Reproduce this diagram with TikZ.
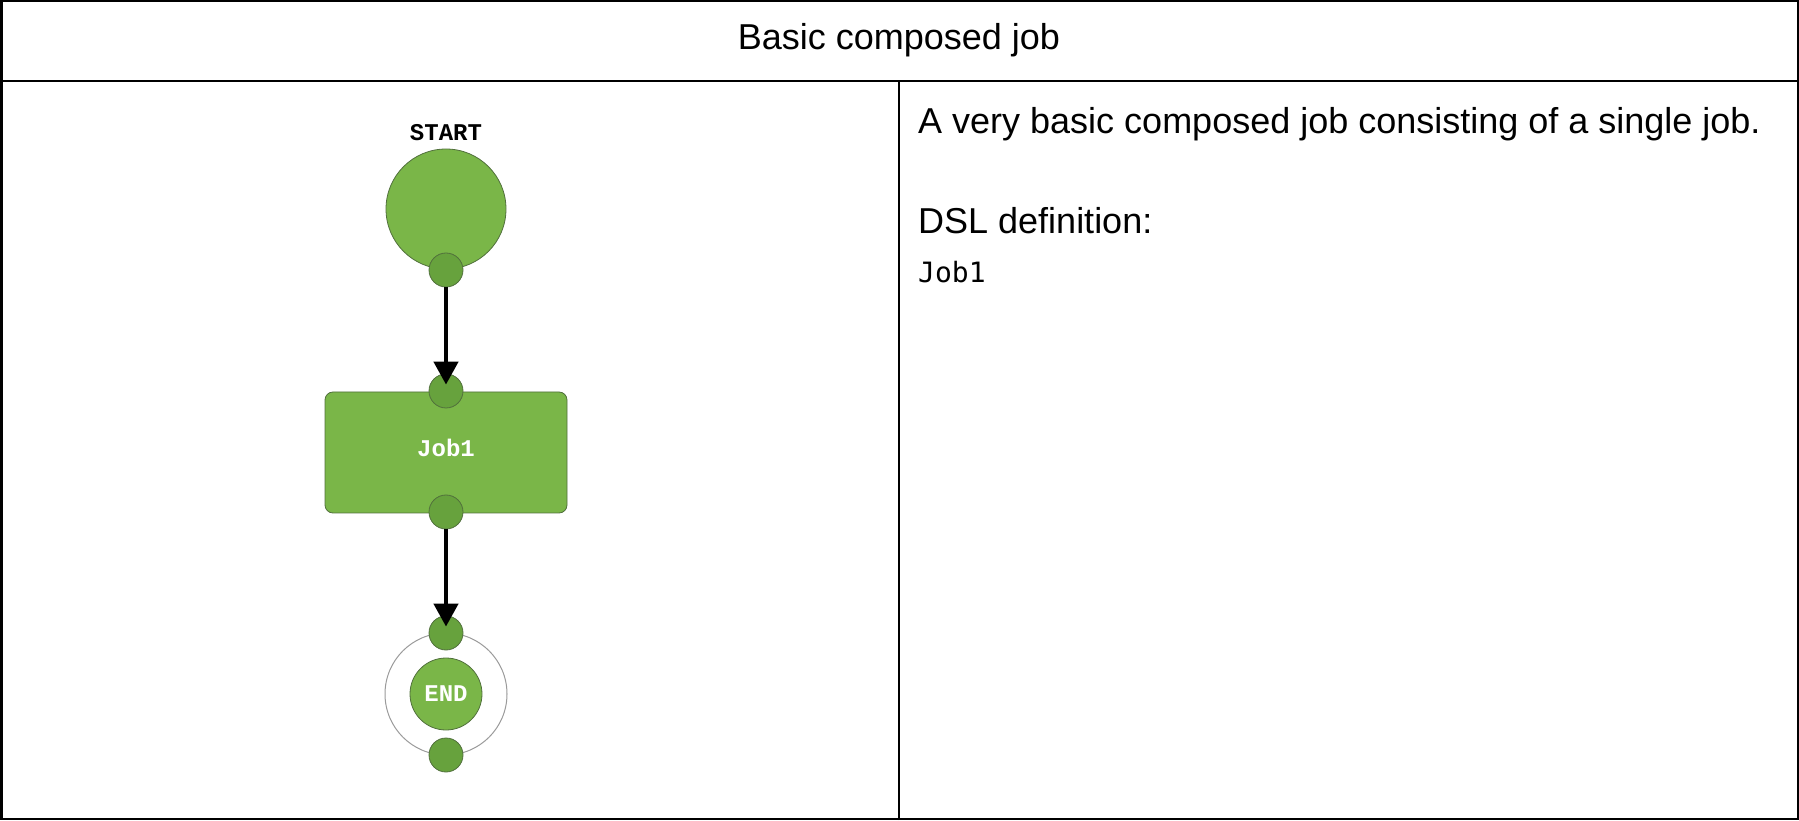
\documentclass[tikz,border=0pt]{standalone}
\usepackage{fontspec}
\setmainfont{Liberation Sans}
\setmonofont{DejaVu Sans Mono}
\newfontfamily\badgefont{Liberation Mono}
\usetikzlibrary{arrows.meta}
\definecolor{jobgreen}{HTML}{7AB648}
\definecolor{portgreen}{HTML}{67A23D}
\definecolor{edgegreen}{HTML}{51703C}
\definecolor{ringgray}{HTML}{9A9A9A}

\begin{document}
\begin{tikzpicture}[x=1pt,y=1pt,
  rule/.style={line width=2.5pt},
  port/.style={circle,draw=edgegreen,fill=portgreen,line width=0.8pt,minimum size=34pt,inner sep=0pt},
  flow/.style={-{Triangle[width=24pt,length=23pt]},line width=4.5pt,shorten >=-11pt},
  badge/.style={font=\badgefont\bfseries\fontsize{24}{28}\selectfont},
  bodytext/.style={font=\fontsize{36}{43}\selectfont,anchor=base west,inner sep=0pt}]
\useasboundingbox (0,0) rectangle (1799,820);
% table frame
\draw[rule] (1.25,1.25) rectangle (1797.75,818.75);
\draw[rule] (0,739) -- (1799,739);
\draw[rule] (899,0) -- (899,739);
\node[font=\fontsize{36}{43}\selectfont,anchor=base,inner sep=0pt] (title) at (899,770) {Basic composed job};
% start
\node[badge,anchor=base,inner sep=0pt] (startlabel) at (446,679) {START};
\node[circle,draw=edgegreen,fill=jobgreen,line width=0.8pt,minimum size=120pt] (start) at (446,611) {};
\node[port] (startout) at (446,550) {};
% job
\node[draw=edgegreen,fill=jobgreen,line width=0.8pt,rounded corners=8pt,
  minimum width=242pt,minimum height=121pt] (job) at (446,367.5) {};
\node[badge,text=white] (joblabel) at (446,372) {Job1};
\node[port] (jobin) at (446,429) {};
\node[port] (jobout) at (446,308) {};
% end
\node[circle,draw=ringgray,line width=1pt,minimum size=122pt] (endring) at (446,126) {};
\node[circle,draw=edgegreen,fill=jobgreen,line width=0.8pt,minimum size=72pt,
  inner sep=0pt,text=white,badge] (endcore) at (446,126) {END};
\node[port] (endin) at (446,187) {};
\node[port] (endout) at (446,65) {};
% links
\draw[flow] (startout) -- (jobin);
\draw[flow] (jobout) -- (endin);
% description
\node[bodytext] (summary) at (918,686) {A very basic composed job consisting of a single job.};
\node[bodytext] (dslhead) at (918,586) {DSL definition:};
\node[bodytext,font=\ttfamily\fontsize{28}{34}\selectfont] (dsl) at (918,537) {Job1};
\end{tikzpicture}
\end{document}
